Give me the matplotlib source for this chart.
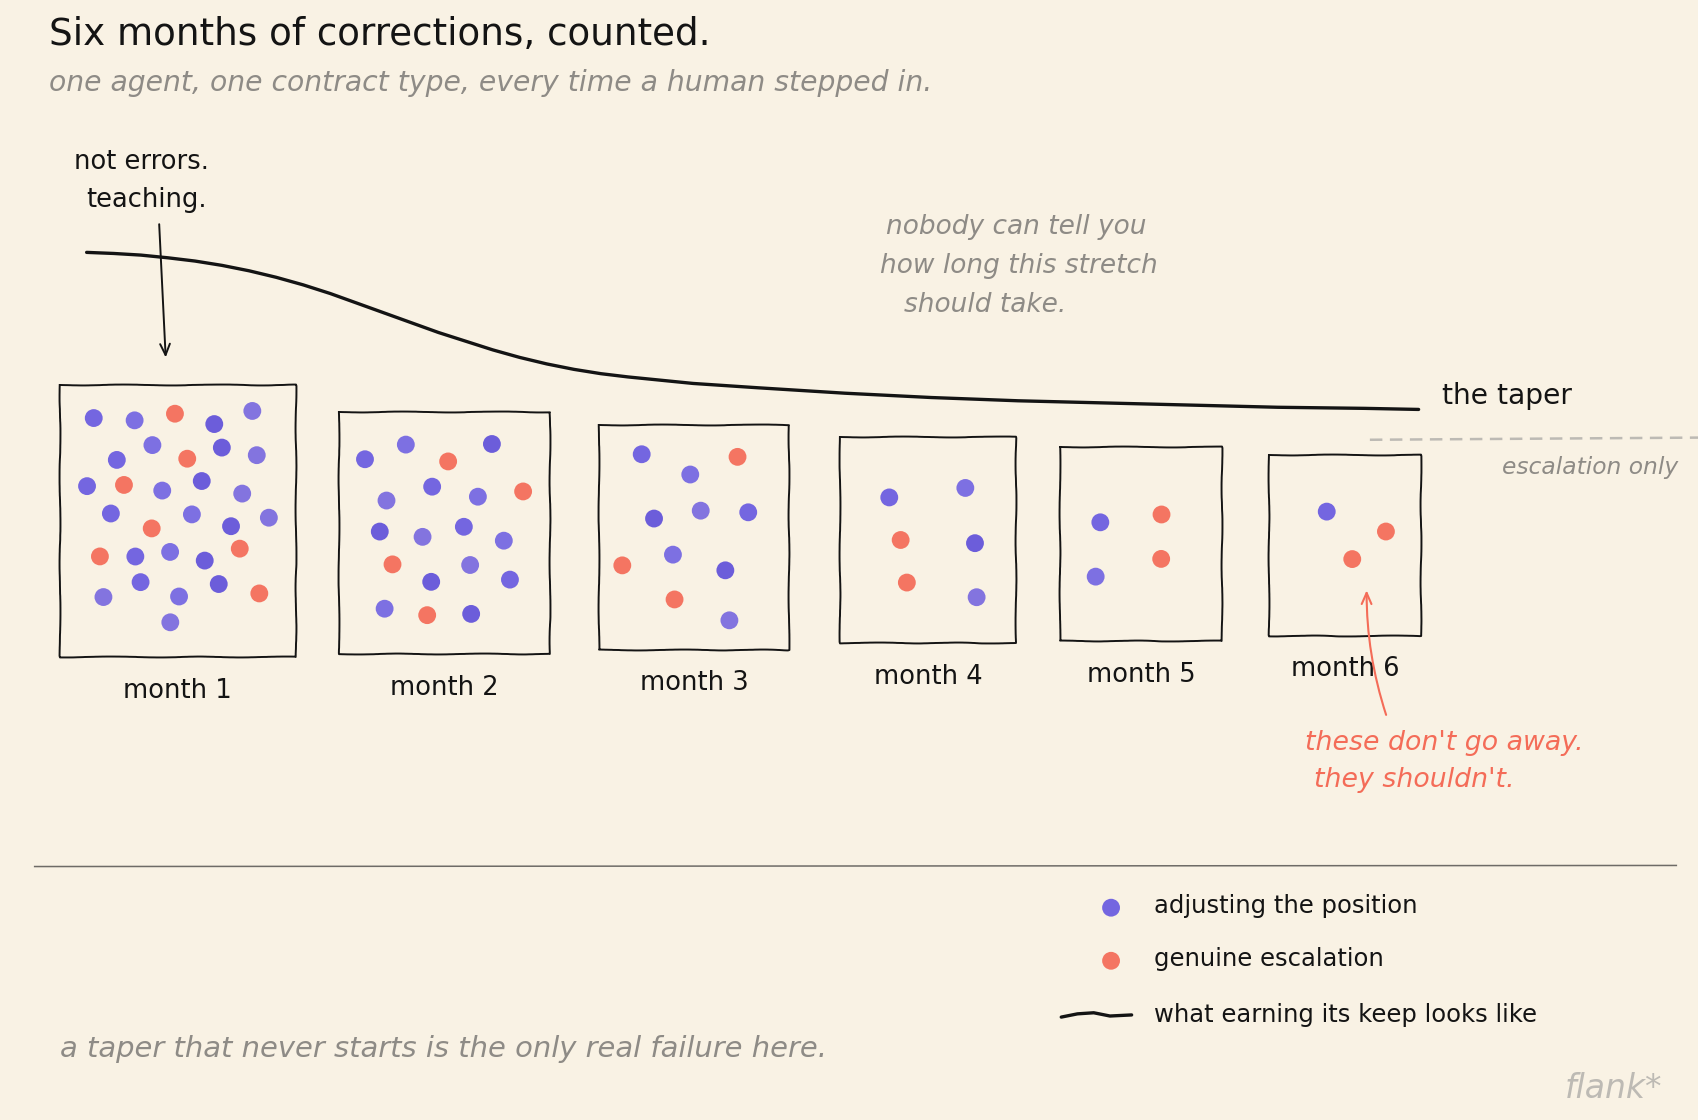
import math
import matplotlib
matplotlib.use("Agg")
import matplotlib.pyplot as plt
from matplotlib.lines import Line2D

# ---------------- data ----------------
months = ["month 1", "month 2", "month 3", "month 4", "month 5", "month 6"]
adjusting = [24, 15, 8, 4, 2, 1]      # blue dots: adjusting the position
escalation = [7, 4, 3, 2, 2, 2]       # red dots: genuine escalation

# the taper curve (x, y in picture units)
taper_x = [80, 105, 130, 155, 180, 205, 230, 255, 280, 305, 330, 355, 380,
           405, 430, 455, 480, 505, 530, 555, 580, 610, 640, 670, 700, 740,
           780, 820, 860, 900, 940, 980, 1020, 1060, 1100, 1140, 1180, 1220,
           1260, 1310]
taper_y = [233, 234, 235.5, 238, 241, 245, 250, 256, 263, 271, 280, 289, 298,
           307, 315, 323, 330, 336, 341, 345, 348, 351, 354, 356, 358, 360.5,
           363, 365, 367, 368.5, 370, 371, 372, 373, 374, 375, 376, 376.5,
           377, 378]

title = "Six months of corrections, counted."
subtitle = "one agent, one contract type, every time a human stepped in."
legend_labels = ["adjusting the position", "genuine escalation",
                 "what earning its keep looks like"]

# ---------------- layout / style ----------------
W, H = 1568, 1034
BG = "#F9F2E4"
BLUE = "#6A5BE0"
BLUE_SHADES = ["#6A5BE0", "#7466E2", "#6152DA", "#7A6ADF"]
RED = "#F46C58"
INK = "#141414"
GRAY = "#8E8B86"
LIGHT = "#BDBAB4"
DOT = 165

box_left = [55, 313, 553, 776, 979, 1172]
box_right = [273, 508, 729, 938, 1128, 1312]
box_top = [355, 380, 392, 403, 413, 420]
box_bottom = [607, 604, 600, 594, 592, 587]

FONT = ["DejaVu Sans"]

fig = plt.figure(figsize=(16.98, 11.20), dpi=100)
fig.patch.set_facecolor(BG)
ax = fig.add_axes([0, 0, 1, 1])
ax.set_facecolor(BG)
ax.set_xlim(0, W)
ax.set_ylim(H, 0)
ax.axis("off")

renderer = fig.canvas.get_renderer()
px_per_unit = fig.get_figwidth() * fig.dpi / W


def fit_text(x0, x1, y, s, color=INK, style="normal", ha="left", fs=20, **kw):
    t = ax.text(x0 if ha == "left" else (x0 + x1) / 2, y, s, fontsize=fs,
                color=color, ha=ha, va="center", family=FONT, style=style, **kw)
    bb = t.get_window_extent(renderer)
    target = (x1 - x0) * px_per_unit
    t.set_fontsize(fs * target / bb.width)
    return t


def same_text(x, y, s, ref, color=INK, style="normal"):
    return ax.text(x, y, s, fontsize=ref.get_fontsize(), color=color, ha="left",
                   va="center", family=FONT, style=style)


# titles
fit_text(45, 655, 32, title)
fit_text(45, 862, 77, subtitle, color=GRAY, style="italic")

# taper curve
ax.plot(taper_x, taper_y, color=INK, lw=2.4, solid_capstyle="round",
        solid_joinstyle="round", zorder=3)
fit_text(1332, 1452, 366, "the taper", fs=24)

# escalation-only dashed line
ax.plot([1265, 1568], [406, 404], color=LIGHT, lw=1.8, ls=(0, (5, 3)), zorder=1)
fit_text(1387, 1550, 432, "escalation only", color=GRAY, style="italic")

# boxes and dots
label_width = 100
for m in range(len(months)):
    x0, x1, y0, y1 = box_left[m], box_right[m], box_top[m], box_bottom[m]
    bx = Line2D([x0, x1, x1, x0, x0], [y0, y0, y1, y1, y0], color=INK, lw=1.4,
                solid_joinstyle="round", zorder=2)
    bx.set_sketch_params(scale=0.45, length=120, randomness=4)
    ax.add_line(bx)

    n = adjusting[m] + escalation[m]
    w, h = x1 - x0, y1 - y0
    cx, cy = (x0 + x1) / 2, (y0 + y1) / 2
    cols = max(2, int(round(math.sqrt(n * w / h))))
    rows = int(math.ceil(n / cols))
    dx = 0.8 * w / cols
    dy = min(0.88 * h / rows, 0.95 * dx, 45)
    red_idx = {int(round((k + 0.5) * n / escalation[m])) for k in range(escalation[m])}
    xs, ys, cs = [], [], []
    i = 0
    bi = 0
    for r in range(rows):
        cnt = min(cols, n - r * cols)
        stagger = (0.22 if r % 2 else -0.22) * dx if cols > 2 else 0
        for c in range(cnt):
            jx = dx * 0.2 * math.sin(i * 12.9898 + m * 4.1)
            jy = dy * 0.22 * math.sin(i * 78.233 + m * 2.3)
            xs.append(cx + (c - (cnt - 1) / 2) * dx + stagger + jx)
            ys.append(cy + (r - (rows - 1) / 2) * dy + jy)
            if i in red_idx:
                cs.append(RED)
            else:
                cs.append(BLUE_SHADES[bi % len(BLUE_SHADES)])
                bi += 1
            i += 1
    ax.scatter(xs, ys, s=DOT, c=cs, edgecolors="none", alpha=0.93, zorder=4)

    lx = (x0 + x1) / 2
    fit_text(lx - label_width / 2, lx + label_width / 2, y1 + 31, months[m],
             ha="center", fs=20)

# "not errors. teaching." annotation
t_ne = fit_text(68, 192, 150, "not errors.")
same_text(80, 185, "teaching.", t_ne)
ax.annotate("", xy=(153, 330), xytext=(147, 207),
            arrowprops=dict(arrowstyle="->,head_length=0.8,head_width=0.35",
                            color=INK, lw=1.4, shrinkA=0, shrinkB=0), zorder=5)

# gray note
t_nb = fit_text(818, 1058, 210, "nobody can tell you", color=GRAY, style="italic")
same_text(813, 246, "how long this stretch", t_nb, color=GRAY, style="italic")
same_text(835, 282, "should take.", t_nb, color=GRAY, style="italic")

# red note
ax.annotate("", xy=(1262, 545), xytext=(1280, 660),
            arrowprops=dict(arrowstyle="->,head_length=0.8,head_width=0.35",
                            color=RED, lw=1.5, shrinkA=0, shrinkB=0,
                            connectionstyle="arc3,rad=-0.08"), zorder=5)
t_rd = fit_text(1205, 1462, 686, "these don't go away.", color=RED, style="italic")
same_text(1213, 720, "they shouldn't.", t_rd, color=RED, style="italic")

# separator rule
ax.plot([32, 1548], [800, 799], color="#6E6B66", lw=1.1, zorder=1)

# legend
ax.scatter([1026], [838], s=DOT, c=BLUE, edgecolors="none", alpha=0.93)
ax.scatter([1026], [887], s=DOT, c=RED, edgecolors="none", alpha=0.93)
ax.plot([980, 995, 1010, 1025, 1045], [939, 936, 935, 938, 937], color=INK,
        lw=2.4, solid_capstyle="round")
t_lg = fit_text(1066, 1418, 937, legend_labels[2])
same_text(1066, 836, legend_labels[0], t_lg)
same_text(1066, 885, legend_labels[1], t_lg)

# footer
fit_text(55, 763, 968, "a taper that never starts is the only real failure here.",
         color=GRAY, style="italic")
fit_text(1445, 1535, 1005, "flank*", color=LIGHT, style="italic")

fig.savefig("out.png", dpi=100, facecolor=BG)
